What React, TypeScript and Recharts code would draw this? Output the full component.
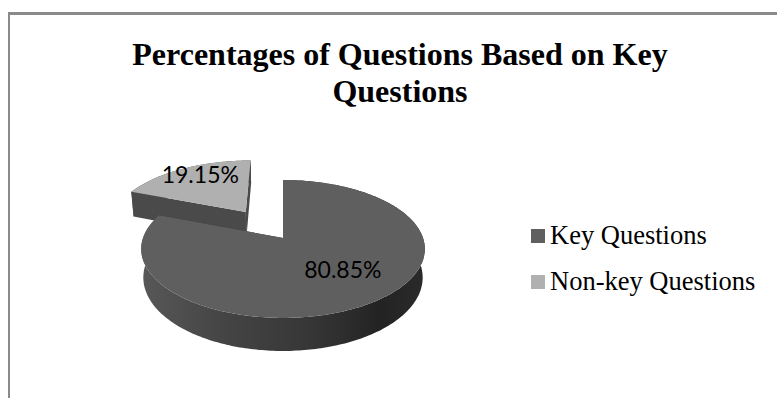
import { PieChart, Pie, Cell, Legend } from "recharts";

// drawn back slice first so the big slice overlaps it
const names = ["Non-key Questions", "Key Questions"];
const values = [19.15, 80.85];
const topColors = ["#b0b0b0", "#5f5f5f"];
const titleLines = ["Percentages of Questions Based on Key", "Questions"];

// how far each slice is pulled out, as a fraction of the radius
const explode = [0.5, 0];
const wallFills = ["#4a4a4a", "url(#rimShade)"];
const cutFills = ["#4a4a4a", "#333333"];
const labelRadius = [0.76, 0.624];
const labelNudge = [[3, -4], [6, -7]];

const startAngle = 90 + values[0] * 3.6;

// tilt of the fake 3D disc
const SQUASH = 0.48;
const PERSPECTIVE = 0.159;
const DEPTH = 27.8;

type Pt = [number, number];

function project(cx: number, cy: number, R: number, u: number, v: number, down = false): Pt {
  const w = 1 - PERSPECTIVE * v;
  const sx = (R * u) / w;
  const sy = (R * SQUASH * v) / w;
  return down ? [cx + sx * 0.985, cy + sy + DEPTH / w] : [cx + sx, cy + sy];
}

const unit = (deg: number): Pt => [Math.cos((deg * Math.PI) / 180), -Math.sin((deg * Math.PI) / 180)];

const toPath = (pts: Pt[]) => "M" + pts.map((p) => `${p[0].toFixed(1)},${p[1].toFixed(1)}`).join("L") + "Z";

function Slice3D(props: any) {
  const { cx, cy, outerRadius, startAngle: a0, endAngle: a1, midAngle, fill, name } = props;
  const i = names.indexOf(name);
  const [mu, mv] = unit(midAngle);
  const ox = mu * explode[i];
  const oy = mv * explode[i];

  const angles: number[] = [];
  const steps = Math.ceil(Math.abs(a1 - a0));
  for (let s = 0; s <= steps; s++) angles.push(a0 + ((a1 - a0) * s) / steps);

  const rim = (down: boolean) =>
    angles.map((a) => {
      const [u, v] = unit(a);
      return project(cx, cy, outerRadius, u + ox, v + oy, down);
    });
  const apex = project(cx, cy, outerRadius, ox, oy);
  const apexDown = project(cx, cy, outerRadius, ox, oy, true);
  const top = rim(false);
  const bottom = rim(true);

  return (
    <g>
      <defs>
        <linearGradient id="rimShade" gradientUnits="userSpaceOnUse" x1={cx - outerRadius} x2={cx + outerRadius} y1={0} y2={0}>
          <stop offset="0" stopColor="#575757" />
          <stop offset="0.3" stopColor="#444444" />
          <stop offset="0.6" stopColor="#363636" />
          <stop offset="0.85" stopColor="#232323" />
          <stop offset="1" stopColor="#2a2a2a" />
        </linearGradient>
      </defs>
      <path d={toPath([...top, ...[...bottom].reverse()])} fill={wallFills[i]} />
      <path d={toPath([apex, top[0], bottom[0], apexDown])} fill={cutFills[i]} />
      <path d={toPath([apex, top[top.length - 1], bottom[bottom.length - 1], apexDown])} fill={cutFills[i]} />
      <path d={toPath([apex, ...top])} fill={fill} />
    </g>
  );
}

function SliceLabel(props: any) {
  const { cx, cy, outerRadius, midAngle, value, name } = props;
  const i = names.indexOf(name);
  const [u, v] = unit(midAngle);
  const r = labelRadius[i] + explode[i];
  const [x, y] = project(cx, cy, outerRadius, u * r, v * r);
  return (
    <text
      x={x + labelNudge[i][0]}
      y={y + labelNudge[i][1]}
      textAnchor="middle"
      dominantBaseline="central"
      fontFamily="Lato"
      fontSize={23}
      fill="#000"
    >
      {`${value}%`}
    </text>
  );
}

export default function App() {
  const data = names.map((name, i) => ({ name, value: values[i] }));

  return (
    <div style={{ position: "absolute", left: 0, top: 0, width: 777, height: 398, overflow: "hidden", background: "#fff" }}>
      {/* legend swatches sit a little above the text's middle */}
      <style>{".recharts-legend-item svg{position:relative;top:-4px}"}</style>
      <div
        style={{
          position: "absolute",
          left: 8,
          top: 12,
          width: 800,
          height: 420,
          borderLeft: "2px solid #8a8a8a",
          borderTop: "3px solid #8a8a8a",
        }}
      />
      <div
        style={{
          position: "absolute",
          left: 0,
          top: 36,
          width: 800,
          textAlign: "center",
          fontFamily: "Liberation Serif",
          fontWeight: "bold",
          fontSize: 32,
          lineHeight: "37px",
        }}
      >
        {titleLines.map((line) => (
          <div key={line}>{line}</div>
        ))}
      </div>
      <PieChart
        width={777}
        height={398}
        margin={{ top: 0, right: 0, bottom: 0, left: 0 }}
        style={{ position: "absolute", left: 0, top: 0 }}
      >
        <Pie
          data={data}
          dataKey="value"
          nameKey="name"
          cx={283}
          cy={238}
          innerRadius={0}
          outerRadius={140}
          startAngle={startAngle}
          endAngle={startAngle - 360}
          stroke="none"
          shape={Slice3D}
          label={SliceLabel}
          labelLine={false}
          isAnimationActive={false}
        >
          {data.map((d, i) => (
            <Cell key={d.name} fill={topColors[i]} />
          ))}
        </Pie>
        <Legend
          layout="vertical"
          align="right"
          verticalAlign="top"
          iconType="square"
          iconSize={14}
          wrapperStyle={{ left: 531, right: "auto", top: 212, width: 240 }}
          formatter={(value) => (
            <span style={{ color: "#000", fontFamily: "Liberation Serif", fontSize: 26.5, lineHeight: "46px", marginLeft: 1 }}>
              {value}
            </span>
          )}
        />
      </PieChart>
    </div>
  );
}
